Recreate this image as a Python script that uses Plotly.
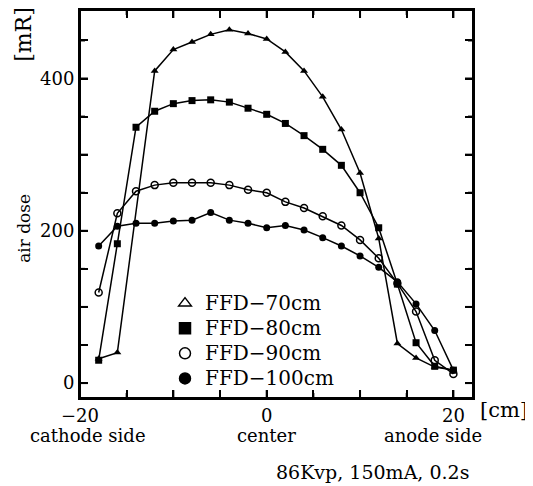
import plotly.graph_objects as go

# ---- data ----
x_all = [-18, -16, -14, -12, -10, -8, -6, -4, -2, 0, 2, 4, 6, 8, 10, 12, 14, 16, 18, 20]
x_70 = [-18, -16, -12, -10, -8, -6, -4, -2, 0, 2, 4, 6, 8, 10, 12, 14, 16, 18, 20]
ffd70 = [32, 40, 410, 438, 448, 458, 464, 459, 452, 435, 410, 376, 333, 276, 190, 52, 33, 21, 17]
ffd80 = [30, 183, 336, 357, 367, 371, 372, 369, 361, 353, 341, 325, 307, 286, 250, 204, 130, 53, 22, 17]
ffd90 = [119, 223, 252, 260, 263, 263, 263, 260, 254, 250, 238, 230, 219, 207, 188, 164, 131, 94, 30, 12]
ffd100 = [180, 206, 210, 210, 213, 214, 224, 214, 210, 204, 207, 201, 191, 180, 167, 152, 133, 104, 69, 17]

series_names = ["FFD\u221270cm", "FFD\u221280cm", "FFD\u221290cm", "FFD\u2212100cm"]
x_tickvals = [-20, -15, -10, -5, 0, 5, 10, 15, 20]
x_ticktext = ["\u221220", "", "", "", "0", "", "", "", "20"]
y_tickvals = [0, 50, 100, 150, 200, 250, 300, 350, 400, 450]
y_ticktext = ["0", "", "", "", "200", "", "", "", "400", ""]

FONT = "DejaVu Serif"
OFF = 8  # default page body margin
W, H = 533 - OFF, 486 - OFF
# plot box in screen pixels
SX0, SX1, SY0, SY1 = 80, 473, 8, 398
L, R, T, B = SX0 - OFF, W - (SX1 - OFF), SY0 - OFF, H - (SY1 - OFF)
PW, PH = W - L - R, H - T - B
XR = [-20.0, 22.1]
YR = [-19.6, 490.0]

def px(xs):
    return (xs - SX0) / PW

def py(ys):
    return (SY1 - ys) / PH

fig = go.Figure()
line = dict(color="black", width=1.5)
fig.add_trace(go.Scatter(x=x_70, y=ffd70, mode="lines+markers", line=line,
                         marker=dict(symbol="triangle-up", size=7, color="black"), showlegend=False))
fig.add_trace(go.Scatter(x=x_all, y=ffd80, mode="lines+markers", line=line,
                         marker=dict(symbol="square", size=7, color="black"), showlegend=False))
fig.add_trace(go.Scatter(x=x_all, y=ffd90, mode="lines+markers", line=line,
                         marker=dict(symbol="circle-open", size=7, color="black", line=dict(width=1.5)),
                         showlegend=False))
fig.add_trace(go.Scatter(x=x_all, y=ffd100, mode="lines+markers", line=line,
                         marker=dict(symbol="circle", size=7, color="black"), showlegend=False))

# tick marks and frame drawn from the tick lists and axis ranges (inside, mirrored)
xu = (XR[1] - XR[0]) / PW   # data units per pixel, x
yu = (YR[1] - YR[0]) / PH   # data units per pixel, y
tx, ty = [], []
for i, v in enumerate(x_tickvals):
    ln = (8 if i % 2 == 0 else 5) * yu
    tx += [v, v, None, v, v, None]
    ty += [YR[0], YR[0] + ln, None, YR[1], YR[1] - ln, None]
for i, v in enumerate(y_tickvals):
    ln = (8 if i % 2 == 0 else 5) * xu
    tx += [XR[0], XR[0] + ln, None, XR[1], XR[1] - ln, None]
    ty += [v, v, None, v, v, None]
tx += [XR[0], XR[1], XR[1], XR[0], XR[0]]
ty += [YR[0], YR[0], YR[1], YR[1], YR[0]]
fig.add_trace(go.Scatter(x=tx, y=ty, mode="lines", line=dict(color="black", width=2),
                         hoverinfo="skip", showlegend=False, cliponaxis=False))

# legend entries (larger text via span; legend font size sets row spacing)
leg_syms = ["triangle-up-open", "square", "circle-open", "circle"]
for name, sym in zip(series_names, leg_syms):
    fig.add_trace(go.Scatter(x=[None], y=[None], mode="markers",
                             name='<span style="font-size:20px">' + name + "</span>",
                             marker=dict(symbol=sym, size=11, color="black", line=dict(width=1.5, color="black"))))

axis_common = dict(ticks="inside", ticklen=8, tickwidth=2, tickcolor="black",
                   showline=True, linecolor="black", linewidth=2, mirror="allticks",
                   showgrid=False, zeroline=False, tickfont=dict(size=18))

fig.update_layout(
    width=W, height=H,
    margin=dict(l=L, r=R, t=T, b=B, pad=0),
    plot_bgcolor="white", paper_bgcolor="white",
    font=dict(family=FONT, size=18, color="black"),
    legend=dict(x=px(165), y=py(285), xanchor="left", yanchor="top",
                bgcolor="rgba(0,0,0,0)", font=dict(size=17), tracegroupgap=0,
                itemwidth=30),
    xaxis=dict(range=XR, tickmode="array", tickvals=x_tickvals, ticktext=x_ticktext,
               **axis_common),
    yaxis=dict(range=YR, tickmode="array", tickvals=y_tickvals, ticktext=y_ticktext,
               **axis_common),
)

ann = [
    ("[cm]", 504, 410, 0, 21),
    ("cathode side", 88, 436, 0, 18),
    ("center", 266, 436, 0, 18),
    ("anode side", 433, 436, 0, 18),
    ("86Kvp, 150mA, 0.2s", 372, 472, 0, 19),
    ("air dose", 24, 228, -90, 17),
    ("[mR]", 24, 33, -90, 22),
]
for text, xs, ys, ang, sz in ann:
    fig.add_annotation(text=text, x=px(xs), y=py(ys), xref="paper", yref="paper",
                       showarrow=False, textangle=ang, font=dict(size=sz),
                       xanchor="center", yanchor="middle")

fig.write_html("out.html")
